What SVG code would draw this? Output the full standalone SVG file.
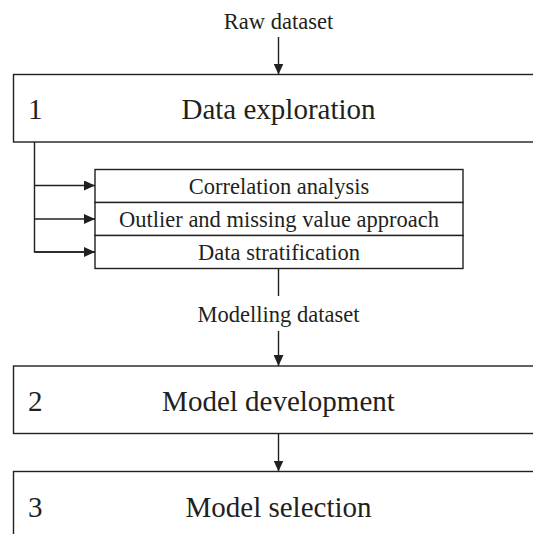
<svg xmlns="http://www.w3.org/2000/svg" width="533" height="534" viewBox="0 0 533 534">
<defs>
<style>
.box{fill:#fff;stroke:#231f20;stroke-width:1.4}
.line{fill:none;stroke:#231f20;stroke-width:1.4}
.big{font-family:"Liberation Serif","Times New Roman",serif;font-size:29px;fill:#231f20}
.sm{font-family:"Liberation Serif","Times New Roman",serif;font-size:22.5px;fill:#231f20}
.mid{text-anchor:middle}
</style>
<marker id="ah" viewBox="0 0 11 10" refX="11" refY="5" markerWidth="11" markerHeight="10" markerUnits="userSpaceOnUse" orient="auto">
<path d="M0,0 L11,5 L0,10 Z" fill="#231f20"/>
</marker>
</defs>
<rect width="533" height="534" fill="#fff"/>
<g id="connectors">
<line class="line" x1="278.5" y1="37" x2="278.5" y2="74.5" marker-end="url(#ah)"/>
<polyline class="line" points="34.5,142 34.5,252 95,252"/>
<line class="line" x1="34.5" y1="185.5" x2="95" y2="185.5" marker-end="url(#ah)"/>
<line class="line" x1="34.5" y1="219" x2="95" y2="219" marker-end="url(#ah)"/>
<line class="line" x1="34.5" y1="252" x2="95" y2="252" marker-end="url(#ah)"/>
<line class="line" x1="278.5" y1="268.5" x2="278.5" y2="296"/>
<line class="line" x1="278.5" y1="331" x2="278.5" y2="366" marker-end="url(#ah)"/>
<line class="line" x1="278.5" y1="433.5" x2="278.5" y2="471.5" marker-end="url(#ah)"/>
</g>
<text class="sm mid" x="278.5" y="29">Raw dataset</text>
<g id="n1">
<rect class="box" x="13.5" y="74.5" width="530" height="67.5"/>
<text class="big" x="28" y="119">1</text>
<text class="big mid" x="278.5" y="119">Data exploration</text>
</g>
<g id="n1a">
<rect class="box" x="95" y="169.5" width="368" height="33"/>
<text class="sm mid" x="279" y="194">Correlation analysis</text>
</g>
<g id="n1b">
<rect class="box" x="95" y="202.5" width="368" height="33"/>
<text class="sm mid" x="279" y="227">Outlier and missing value approach</text>
</g>
<g id="n1c">
<rect class="box" x="95" y="235.5" width="368" height="33"/>
<text class="sm mid" x="279" y="260">Data stratification</text>
</g>
<text class="sm mid" x="278.5" y="322">Modelling dataset</text>
<g id="n2">
<rect class="box" x="13.5" y="366" width="530" height="67.5"/>
<text class="big" x="28" y="410.5">2</text>
<text class="big mid" x="278.5" y="410.5">Model development</text>
</g>
<g id="n3">
<rect class="box" x="13.5" y="471.5" width="530" height="80"/>
<text class="big" x="28" y="517">3</text>
<text class="big mid" x="278.5" y="517">Model selection</text>
</g>
</svg>
